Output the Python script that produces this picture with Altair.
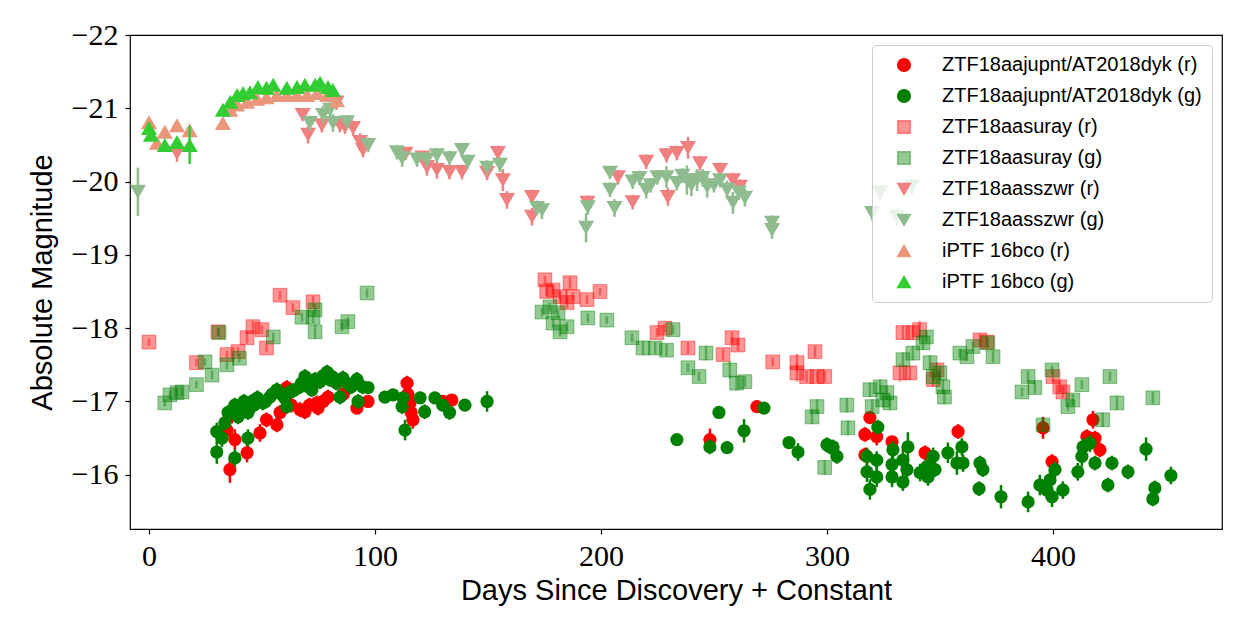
import altair as alt
import pandas as pd

# ---------------- data (day, absolute magnitude, error) ----------------
ajupnt_r = [
    (34.5, -16.61, 0.12), (35.8, -16.07, 0.18), (36.7, -16.82, 0.12), (38.0, -16.48, 0.14),
    (42.5, -16.98, 0.10), (43.4, -16.30, 0.13), (49.1, -16.57, 0.12), (52.0, -16.75, 0.10),
    (56.6, -16.68, 0.10), (58.0, -16.85, 0.10), (61.0, -17.19, 0.10), (63.0, -16.95, 0.10),
    (66.8, -16.89, 0.10), (69.0, -16.86, 0.10), (69.9, -17.30, 0.10), (71.0, -16.95, 0.10),
    (74.3, -16.98, 0.10), (74.8, -16.91, 0.10), (77.0, -17.00, 0.10), (79.2, -17.06, 0.10),
    (86.0, -17.10, 0.10), (92.0, -16.91, 0.08), (96.9, -17.00, 0.06), (114.2, -17.25, 0.10),
    (114.5, -17.10, 0.10), (115.5, -16.98, 0.12), (116.0, -16.85, 0.12), (116.8, -16.75, 0.12),
    (130.0, -17.00, 0.06), (134.0, -17.02, 0.06), (248.2, -16.48, 0.15), (269.0, -16.93, 0.08),
    (316.8, -16.55, 0.10), (316.8, -16.27, 0.10), (319.0, -16.78, 0.08), (322.0, -16.52, 0.12),
    (328.8, -16.45, 0.08), (343.4, -16.30, 0.10), (358.0, -16.59, 0.10), (395.6, -16.64, 0.15),
    (399.6, -16.18, 0.10), (415.0, -16.52, 0.10), (417.7, -16.75, 0.12), (418.6, -16.50, 0.10),
    (420.8, -16.34, 0.10),
]
ajupnt_g = [
    (30.0, -16.59, 0.12), (30.0, -16.31, 0.16), (32.3, -16.50, 0.12), (33.6, -16.71, 0.10),
    (35.0, -16.85, 0.10), (38.0, -16.23, 0.12), (38.0, -16.95, 0.10), (39.4, -16.79, 0.10),
    (40.5, -16.90, 0.10), (42.0, -17.00, 0.10), (43.8, -16.85, 0.10), (43.8, -16.50, 0.12),
    (45.6, -17.00, 0.10), (46.5, -16.95, 0.10), (48.0, -17.05, 0.10), (50.4, -16.98, 0.10),
    (51.5, -17.00, 0.10), (53.5, -17.06, 0.10), (54.5, -17.10, 0.10), (56.6, -17.16, 0.10),
    (58.5, -17.10, 0.10), (60.0, -17.05, 0.10), (61.0, -16.93, 0.10), (62.4, -17.13, 0.10),
    (64.0, -17.15, 0.10), (66.8, -17.20, 0.10), (67.5, -17.25, 0.10), (69.0, -17.34, 0.10),
    (70.5, -17.20, 0.10), (72.1, -17.16, 0.10), (73.5, -17.30, 0.10), (75.7, -17.27, 0.10),
    (77.0, -17.35, 0.10), (78.8, -17.40, 0.10), (80.0, -17.30, 0.10), (81.0, -17.34, 0.10),
    (83.0, -17.25, 0.10), (84.5, -17.06, 0.10), (85.8, -17.32, 0.10), (87.5, -17.25, 0.10),
    (89.5, -17.20, 0.10), (92.0, -17.30, 0.10), (92.5, -17.00, 0.10), (94.5, -17.20, 0.10),
    (96.9, -17.19, 0.08), (104.4, -17.06, 0.06), (108.0, -17.09, 0.08),
    (112.0, -16.93, 0.10), (112.4, -17.05, 0.08), (113.3, -16.61, 0.14), (120.0, -17.05, 0.06),
    (122.0, -16.86, 0.10), (126.5, -17.05, 0.06), (130.0, -16.95, 0.08), (133.0, -16.85, 0.10),
    (139.8, -16.95, 0.08), (149.6, -17.00, 0.14),
    (233.6, -16.48, 0.08), (248.2, -16.38, 0.10), (252.2, -16.85, 0.08), (255.8, -16.37, 0.08),
    (263.3, -16.60, 0.16), (272.1, -16.91, 0.08), (283.2, -16.44, 0.08), (287.2, -16.31, 0.12),
    (300.0, -16.41, 0.10), (301.3, -16.38, 0.10), (302.7, -16.38, 0.10), (304.4, -16.25, 0.10),
    (317.7, -16.25, 0.12), (317.7, -16.04, 0.14), (319.0, -15.80, 0.14), (322.0, -16.20, 0.12),
    (322.0, -15.97, 0.14), (322.5, -16.65, 0.10), (328.8, -16.14, 0.14), (329.2, -16.34, 0.12),
    (328.8, -15.97, 0.14), (333.6, -15.90, 0.12), (333.6, -16.20, 0.14), (335.8, -16.38, 0.20),
    (335.4, -16.07, 0.14), (341.2, -16.03, 0.12), (344.2, -16.11, 0.12), (347.0, -16.25, 0.12),
    (347.8, -16.07, 0.10), (344.7, -15.97, 0.12), (353.5, -16.30, 0.14), (357.5, -16.16, 0.16),
    (359.7, -16.38, 0.12), (360.2, -16.16, 0.12), (367.7, -16.16, 0.10), (369.0, -16.07, 0.10),
    (367.3, -15.81, 0.10), (377.0, -15.70, 0.16), (389.0, -15.63, 0.14), (394.2, -15.86, 0.14),
    (397.3, -15.79, 0.12), (398.7, -15.93, 0.12), (399.6, -15.70, 0.14), (400.9, -16.07, 0.12),
    (404.4, -15.79, 0.12), (411.0, -16.04, 0.12), (412.8, -16.25, 0.14), (413.3, -16.38, 0.12),
    (416.4, -16.43, 0.12), (418.6, -16.16, 0.10), (426.1, -16.16, 0.10), (424.3, -15.86, 0.10),
    (433.2, -16.04, 0.10), (441.2, -16.35, 0.16), (445.1, -15.82, 0.10), (444.2, -15.67, 0.10),
    (452.2, -15.99, 0.12),
]
asuray_r = [
    (0.0, -17.81, 0.05), (21.0, -17.53, 0.05), (30.5, -17.95, 0.06), (34.5, -17.64, 0.05),
    (39.4, -17.68, 0.06), (43.4, -17.87, 0.08), (46.0, -18.02, 0.08), (50.0, -17.98, 0.06),
    (52.0, -17.73, 0.06), (58.0, -18.45, 0.06), (63.7, -18.28, 0.06), (72.6, -18.36, 0.08),
    (175.2, -18.66, 0.06), (176.0, -18.50, 0.06), (178.8, -18.52, 0.06), (181.9, -18.43, 0.08),
    (185.0, -18.35, 0.08), (186.3, -18.62, 0.08), (187.6, -18.43, 0.06), (193.8, -18.39, 0.06),
    (199.6, -18.50, 0.05), (224.8, -17.94, 0.06), (228.3, -18.00, 0.06), (238.5, -17.73, 0.08),
    (254.0, -17.64, 0.08), (258.0, -17.87, 0.08), (260.6, -17.77, 0.08), (276.0, -17.54, 0.06),
    (286.7, -17.53, 0.12), (286.7, -17.39, 0.12), (291.0, -17.34, 0.08), (294.7, -17.68, 0.08),
    (295.6, -17.34, 0.08), (299.0, -17.34, 0.08), (332.3, -17.39, 0.12), (333.6, -17.94, 0.10),
    (336.7, -17.39, 0.10), (338.0, -17.94, 0.10), (341.0, -17.98, 0.12), (347.0, -17.30, 0.10),
    (348.7, -17.43, 0.10), (367.7, -17.84, 0.08), (370.8, -17.81, 0.08), (400.0, -17.34, 0.08),
    (403.0, -17.20, 0.08), (404.4, -17.13, 0.08),
]
asuray_g = [
    (7.0, -16.98, 0.05), (9.3, -17.09, 0.06), (12.4, -17.12, 0.06), (14.6, -17.13, 0.06),
    (21.0, -17.23, 0.05), (24.8, -17.54, 0.05), (27.9, -17.36, 0.06), (31.0, -17.94, 0.06),
    (34.5, -17.50, 0.06), (40.0, -17.59, 0.06), (55.0, -17.88, 0.06), (67.7, -18.15, 0.06),
    (72.6, -18.15, 0.08), (73.5, -17.95, 0.10), (73.5, -18.25, 0.08), (85.4, -18.02, 0.06),
    (88.0, -18.09, 0.06), (96.5, -18.48, 0.06),
    (173.9, -18.22, 0.06), (177.4, -18.29, 0.06), (178.8, -18.07, 0.06), (181.0, -18.21, 0.06),
    (181.9, -17.95, 0.06), (185.0, -18.02, 0.06), (194.2, -18.14, 0.06), (202.6, -18.11, 0.05),
    (213.7, -17.87, 0.06), (218.6, -17.73, 0.10), (224.0, -17.73, 0.08), (229.0, -17.70, 0.08),
    (231.9, -17.98, 0.06), (238.5, -17.46, 0.06), (243.4, -17.34, 0.06), (246.5, -17.66, 0.10),
    (257.0, -17.43, 0.12), (260.0, -17.25, 0.10), (263.7, -17.27, 0.08),
    (293.4, -16.79, 0.10), (295.6, -16.93, 0.10), (299.0, -16.10, 0.10), (308.8, -16.95, 0.10),
    (309.3, -16.64, 0.10), (319.0, -17.16, 0.10), (320.0, -16.93, 0.10), (323.5, -17.20, 0.10),
    (324.8, -17.02, 0.10), (326.5, -17.12, 0.10), (327.9, -16.98, 0.10), (333.6, -17.57, 0.10),
    (338.0, -17.66, 0.10), (342.5, -17.80, 0.10), (344.0, -17.88, 0.08), (345.6, -17.53, 0.10),
    (347.0, -17.34, 0.10), (350.0, -17.39, 0.10), (351.3, -17.20, 0.10), (352.0, -17.06, 0.10),
    (358.8, -17.66, 0.06), (361.9, -17.61, 0.06), (364.6, -17.75, 0.06), (371.2, -17.80, 0.06),
    (373.5, -17.61, 0.08), (386.3, -17.13, 0.06), (389.0, -17.34, 0.08), (392.0, -17.19, 0.08),
    (395.6, -16.68, 0.10), (399.6, -17.43, 0.06), (406.6, -16.93, 0.06), (408.8, -17.02, 0.08),
    (412.8, -17.23, 0.06), (422.0, -16.75, 0.10), (425.2, -17.34, 0.06), (428.3, -16.98, 0.10),
    (444.2, -17.05, 0.08),
]
aasszwr_r = [
    (12.4, -20.39, 0.12), (68.0, -20.91, 0.08), (70.4, -20.64, 0.12), (76.5, -20.77, 0.10),
    (83.0, -21.08, 0.10), (84.5, -20.77, 0.10), (86.7, -20.75, 0.10), (90.3, -20.73, 0.10),
    (93.4, -20.54, 0.12), (94.7, -20.43, 0.10), (113.5, -20.38, 0.08), (121.0, -20.33, 0.05),
    (123.0, -20.20, 0.12), (127.4, -20.16, 0.12), (133.0, -20.13, 0.10), (138.5, -20.13, 0.10),
    (149.6, -20.12, 0.10), (154.4, -20.39, 0.10), (156.6, -20.02, 0.15), (158.4, -19.75, 0.12),
    (169.5, -19.79, 0.10), (169.5, -19.52, 0.12), (194.0, -19.71, 0.10), (207.5, -20.06, 0.10),
    (214.0, -19.72, 0.10), (220.0, -20.27, 0.10), (229.0, -20.36, 0.10), (229.6, -19.79, 0.12),
    (233.6, -20.39, 0.10), (238.5, -20.46, 0.15), (243.8, -20.25, 0.10), (252.7, -20.16, 0.10),
    (258.4, -20.02, 0.10), (261.5, -19.93, 0.10),
]
aasszwr_g = [
    (-4.9, -19.86, 0.33), (71.2, -20.80, 0.10), (77.0, -20.91, 0.12), (80.1, -20.98, 0.10),
    (81.4, -20.80, 0.12), (87.6, -20.81, 0.10), (97.0, -20.50, 0.10), (109.7, -20.40, 0.10),
    (112.0, -20.32, 0.12), (118.6, -20.30, 0.10), (123.0, -20.30, 0.10), (127.4, -20.36, 0.10),
    (133.0, -20.32, 0.10), (138.5, -20.43, 0.08), (141.0, -20.27, 0.10), (149.6, -20.19, 0.10),
    (155.3, -20.23, 0.10), (171.7, -19.64, 0.10), (173.9, -19.61, 0.12), (193.4, -19.37, 0.20),
    (194.2, -19.65, 0.10), (204.0, -20.12, 0.08), (204.0, -19.89, 0.10), (206.0, -19.64, 0.12),
    (214.0, -20.00, 0.10), (217.0, -20.05, 0.10), (220.0, -19.89, 0.12), (222.0, -19.95, 0.10),
    (225.0, -20.06, 0.10), (229.0, -20.06, 0.15), (233.6, -19.98, 0.10), (236.0, -20.08, 0.10),
    (238.0, -20.02, 0.20), (240.0, -19.95, 0.15), (242.5, -20.02, 0.15), (245.0, -20.05, 0.12),
    (247.0, -19.93, 0.15), (250.0, -19.95, 0.10), (252.7, -20.02, 0.10), (255.8, -19.89, 0.12),
    (258.4, -19.71, 0.15), (261.0, -19.85, 0.10), (263.7, -19.78, 0.12), (275.7, -19.44, 0.10),
    (275.7, -19.34, 0.12), (320.0, -19.57, 0.10), (323.5, -19.85, 0.10), (331.0, -19.52, 0.12),
    (337.6, -19.93, 0.10),
]
iptf_r = [
    (0.0, -20.81, 0.05), (3.5, -20.53, 0.05), (7.0, -20.68, 0.05), (12.4, -20.77, 0.05),
    (18.0, -20.70, 0.05), (32.7, -20.80, 0.04), (36.0, -20.98, 0.04), (39.0, -21.05, 0.03),
    (43.4, -21.09, 0.03), (47.8, -21.13, 0.03), (52.0, -21.15, 0.03), (56.6, -21.18, 0.03),
    (61.0, -21.18, 0.03), (65.5, -21.18, 0.03), (70.0, -21.18, 0.03), (74.3, -21.21, 0.03),
    (78.8, -21.18, 0.03), (83.2, -21.11, 0.03),
]
iptf_g = [
    (0.0, -20.73, 0.05), (0.9, -20.64, 0.05), (7.0, -20.50, 0.05), (12.4, -20.54, 0.05),
    (18.0, -20.50, 0.26), (32.7, -20.98, 0.04), (36.0, -21.09, 0.03), (39.0, -21.18, 0.03),
    (41.6, -21.21, 0.03), (44.7, -21.22, 0.03), (48.2, -21.29, 0.03), (52.0, -21.28, 0.03),
    (55.0, -21.32, 0.03), (61.0, -21.28, 0.03), (65.5, -21.29, 0.03), (69.0, -21.32, 0.03),
    (73.5, -21.32, 0.03), (75.7, -21.35, 0.03), (79.2, -21.29, 0.03), (81.4, -21.25, 0.03),
]

series_names = [
    "ZTF18aajupnt/AT2018dyk (r)", "ZTF18aajupnt/AT2018dyk (g)",
    "ZTF18aasuray (r)", "ZTF18aasuray (g)",
    "ZTF18aasszwr (r)", "ZTF18aasszwr (g)",
    "iPTF 16bco (r)", "iPTF 16bco (g)",
]
series_data = [ajupnt_r, ajupnt_g, asuray_r, asuray_g, aasszwr_r, aasszwr_g, iptf_r, iptf_g]
colors = ["#ff0000", "#008000", "rgba(255,0,0,0.42)", "rgba(0,128,0,0.42)",
          "#f08080", "#8fbc8f", "#e9967a", "#32cd32"]
shapes = ["circle", "circle", "square", "square", "triangle-down", "triangle-down",
          "triangle-up", "triangle-up"]
sizes = [175, 175, 190, 190, 260, 260, 260, 260]

x_ticks = [0, 100, 200, 300, 400]
y_ticks = [-22, -21, -20, -19, -18, -17, -16]

color_scale = alt.Scale(domain=series_names, range=colors)
shape_scale = alt.Scale(domain=series_names, range=shapes)

x_enc = alt.X("day:Q", scale=alt.Scale(domain=[-8.4, 474.8], nice=False, zero=False),
              axis=alt.Axis(values=x_ticks, format="d", title="Days Since Discovery + Constant"))
y_enc = alt.Y("mag:Q", scale=alt.Scale(domain=[-22, -15.26], nice=False, zero=False, reverse=True),
              axis=alt.Axis(values=y_ticks, format="d", title="Absolute Magnitude"))

layers = []
for i, (name, rows) in enumerate(zip(series_names, series_data)):
    df = pd.DataFrame(rows, columns=["day", "mag", "err"])
    df["lo"] = df["mag"] - df["err"]
    df["hi"] = df["mag"] + df["err"]
    df["series"] = name
    base = alt.Chart(df)
    rule = base.mark_rule(strokeWidth=2.5).encode(
        x=x_enc, y=alt.Y("lo:Q"), y2="hi:Q",
        color=alt.value(colors[i]),
    )
    pts = base.mark_point(filled=True, size=sizes[i], strokeWidth=1, opacity=1).encode(
        x=x_enc, y=y_enc,
        color=alt.Color("series:N", scale=color_scale, legend=alt.Legend(title=None)),
        shape=alt.Shape("series:N", scale=shape_scale, legend=alt.Legend(title=None)),
    )
    if shapes[i] == "square":
        pts = pts.encode(stroke=alt.Stroke("series:N", scale=color_scale, legend=None))
    layers.append(rule)
    layers.append(pts)

chart = alt.layer(*layers).properties(
    width=1092, height=494,
    autosize=alt.AutoSizeParams(type="none"),
    padding={"left": 130, "top": 35, "right": 31, "bottom": 109},
).configure_view(
    stroke="black", strokeWidth=1.2,
).configure_axis(
    domain=False, grid=False, ticks=True, tickSize=5, tickColor="black", tickWidth=1.2,
    labelFont="Liberation Serif", labelFontSize=30, labelColor="black", labelPadding=7,
    titleFont="Liberation Sans", titleFontSize=29, titleFontWeight="normal", titleColor="black",
).configure_axisY(titlePadding=14).configure_axisX(titlePadding=5).configure_legend(
    orient="top-right", offset=10, fillColor="rgba(255,255,255,0.8)", strokeColor="#cccccc",
    cornerRadius=4, padding=10, labelFont="Liberation Sans", labelFontSize=20, labelColor="black",
    symbolSize=160, rowPadding=11, labelOffset=28, symbolOffset=12, labelLimit=400,
    symbolOpacity=1,
)

chart.save("out.html", embed_options={"renderer": "svg", "actions": False})
